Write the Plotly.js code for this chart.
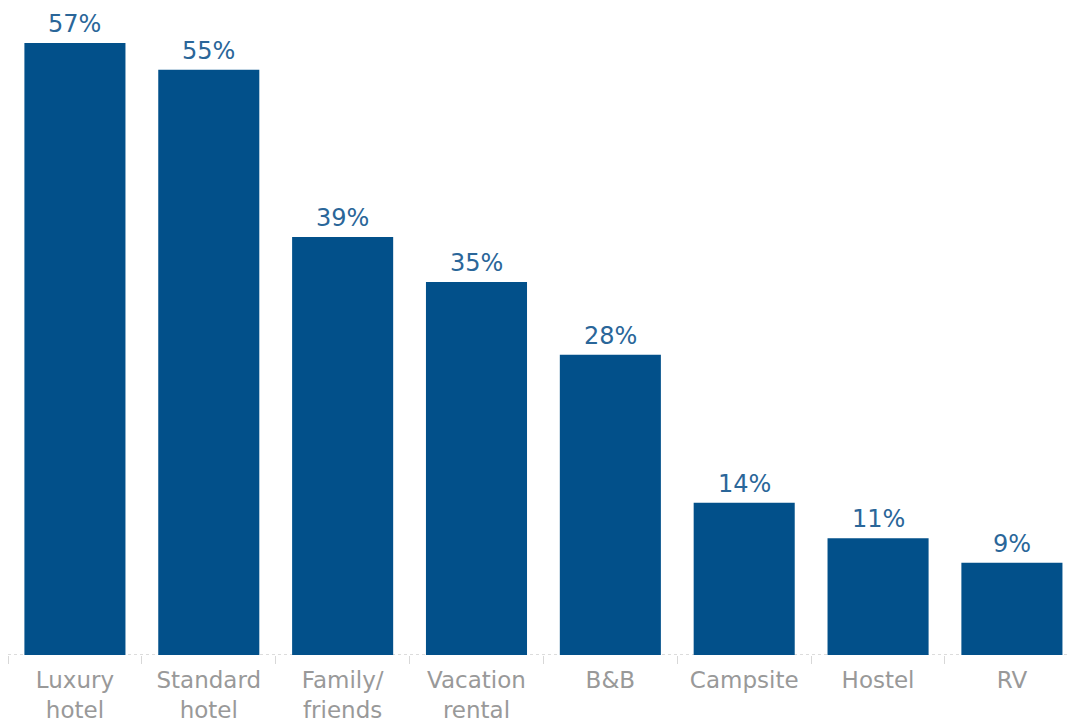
<!DOCTYPE html>
<html>
<head>
<meta charset="utf-8">
<script src="https://cdn.plot.ly/plotly-3.0.1.min.js"></script>
<style>html,body{margin:0;padding:0;background:#fff;}#chart{width:1068px;height:724px;}</style>
</head>
<body>
<div id="chart"></div>
<script>
const categories = ["Luxury<br>hotel", "Standard<br>hotel", "Family/<br>friends", "Vacation<br>rental", "B&B", "Campsite", "Hostel", "RV"];
const values = [57.1, 54.6, 39.0, 34.8, 28.0, 14.2, 10.9, 8.6];
const valueLabels = ["57%", "55%", "39%", "35%", "28%", "14%", "11%", "9%"];

const trace = {
  type: "bar",
  x: categories,
  y: values,
  marker: {color: "#02508a"},
  hoverinfo: "skip"
};

const annotations = categories.map((c, i) => ({
  x: c, y: values[i], xref: "x", yref: "y",
  text: valueLabels[i], showarrow: false,
  yanchor: "bottom", yshift: 3,
  font: {family: "DejaVu Sans", size: 24, color: "#2a6699"}
}));

const layout = {
  width: 1068, height: 724,
  margin: {l: 8, r: 0, t: 0, b: 69},
  paper_bgcolor: "#fff", plot_bgcolor: "#fff",
  bargap: 0.245,
  showlegend: false,
  xaxis: {
    type: "category",
    range: [-0.5, 7.419],
    tickson: "boundaries",
    ticks: "outside", ticklen: 8, tickcolor: "#d8d8d8", tickwidth: 1,
    ticklabelstandoff: 9,
    showline: false, showgrid: false, zeroline: false,
    tickfont: {family: "DejaVu Sans", size: 23, color: "#999999"},
    fixedrange: true
  },
  yaxis: {
    range: [0, 61.1],
    visible: false, showgrid: false, zeroline: false, fixedrange: true
  },
  shapes: [{
    type: "line", xref: "paper", yref: "y", x0: 0, x1: 1, y0: 0, y1: 0,
    line: {color: "#b8b8b8", width: 1, dash: "dot"}, layer: "below"
  }],
  annotations: annotations
};

Plotly.newPlot("chart", [trace], layout, {displayModeBar: false, staticPlot: true});
</script>
</body>
</html>
